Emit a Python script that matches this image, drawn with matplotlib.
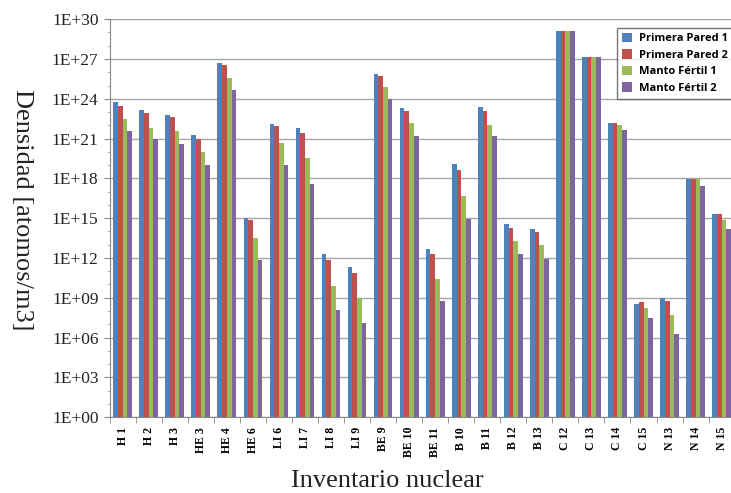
import numpy as np
import matplotlib.pyplot as plt
from matplotlib.ticker import FixedLocator, FuncFormatter

isotopes = ['H 1', 'H 2', 'H 3', 'HE 3', 'HE 4', 'HE 6', 'LI 6', 'LI 7', 'LI 8', 'LI 9',
            'BE 9', 'BE 10', 'BE 11', 'B 10', 'B 11', 'B 12', 'B 13', 'C 12', 'C 13',
            'C 14', 'C 15', 'N 13', 'N 14', 'N 15']

primera_pared_1 = [5.8e23, 1.4e23, 6.5e22, 1.9e21, 4.8e26, 1.1e15, 1.3e22, 6.0e21, 1.9e12, 2.0e11,
                   7.9e25, 2.0e23, 5.1e12, 1.3e19, 2.4e23, 3.5e14, 1.5e14, 1.4e29, 1.4e27,
                   1.4e22, 3.5e8, 9.8e8, 8.7e17, 1.9e15]
primera_pared_2 = [2.9e23, 8.5e22, 4.1e22, 1.0e21, 3.5e26, 7.9e14, 8.9e21, 2.5e21, 6.5e11, 7.4e10,
                   5.6e25, 1.2e23, 1.9e12, 4.6e18, 1.2e23, 1.9e14, 9.3e13, 1.4e29, 1.4e27,
                   1.4e22, 4.4e8, 5.5e8, 8.7e17, 1.9e15]
manto_fertil_1 = [3.2e22, 6.8e21, 3.8e21, 1.0e20, 3.7e25, 3.2e13, 4.5e20, 3.5e19, 7.1e9, 9.3e8,
                  7.8e24, 1.6e22, 2.8e10, 4.5e16, 1.1e22, 1.9e13, 9.5e12, 1.4e29, 1.4e27,
                  1.1e22, 1.7e8, 4.9e7, 8.7e17, 7.9e14]
manto_fertil_2 = [3.5e21, 9.3e20, 4.0e20, 1.1e19, 4.4e24, 6.8e11, 9.8e18, 4.1e17, 1.1e8, 1.2e7,
                  9.1e23, 1.5e21, 5.5e8, 9.3e14, 1.5e21, 2.1e12, 8.1e11, 1.4e29, 1.4e27,
                  4.8e21, 3.0e7, 2.0e6, 2.7e17, 1.4e14]

series = [('Primera Pared 1', primera_pared_1, '#4F81BD'),
          ('Primera Pared 2', primera_pared_2, '#C0504D'),
          ('Manto Fértil 1', manto_fertil_1, '#9BBB59'),
          ('Manto Fértil 2', manto_fertil_2, '#8064A2')]

serif = 'Liberation Serif'

fig = plt.figure(figsize=(7.31, 4.93), dpi=100)
ax = fig.add_axes([0.150, 0.154, 0.855, 0.807])

x = np.arange(len(isotopes))
w = 0.18
for k, (name, vals, col) in enumerate(series):
    ax.bar(x + (k - 1.5) * w, vals, w, bottom=1, color=col, label=name, zorder=3)

ax.set_yscale('log')
ax.set_ylim(1, 1e30)
ax.set_xlim(-0.5, len(isotopes) - 0.5)
ax.yaxis.set_major_locator(FixedLocator([10.0 ** e for e in range(0, 31, 3)]))
ax.yaxis.set_minor_locator(FixedLocator([10.0 ** e for e in range(0, 31)]))
ax.yaxis.set_major_formatter(FuncFormatter(lambda v, p: '1E+%02d' % round(np.log10(v))))
ax.yaxis.set_minor_formatter(FuncFormatter(lambda v, p: ''))
ax.grid(axis='y', which='major', color='#a6a6a6', linewidth=1.0, zorder=0)

ax.set_xticks(x)
ax.set_xticklabels(isotopes, rotation=90, fontsize=8.5, fontweight='bold', family=serif)
ax.set_xticks(np.arange(-0.5, len(isotopes), 1), minor=True)
ax.tick_params(axis='x', which='major', length=0, pad=7)
ax.tick_params(axis='x', which='minor', length=4, color='#888888')
ax.tick_params(axis='y', which='major', length=4, color='#888888', labelsize=12.5, pad=4,
               labelcolor='#222222')
ax.tick_params(axis='y', which='minor', length=2, color='#aaaaaa')
for lab in ax.get_yticklabels():
    lab.set_family(serif)

for s in ['top', 'right']:
    ax.spines[s].set_visible(False)
for s in ['left', 'bottom']:
    ax.spines[s].set_color('#888888')

fig.text(0.030, 0.575, 'Densidad [atomos/m3]', rotation=-90, fontsize=19, family=serif,
         ha='center', va='center', color='#222222')
fig.text(0.530, 0.025, 'Inventario nuclear', fontsize=19, family=serif,
         ha='center', va='center', color='#222222')

leg = ax.legend(loc='upper right', bbox_to_anchor=(1.006, 0.992),
                prop={'family': 'Open Sans', 'weight': 'bold', 'size': 8}, frameon=True,
                fancybox=False, edgecolor='#555555', handlelength=0.9, handleheight=0.9,
                borderpad=0.45, labelspacing=0.45, handletextpad=0.6)
leg.get_frame().set_linewidth(1.0)
leg.set_zorder(5)

fig.savefig('out.png', dpi=100)
